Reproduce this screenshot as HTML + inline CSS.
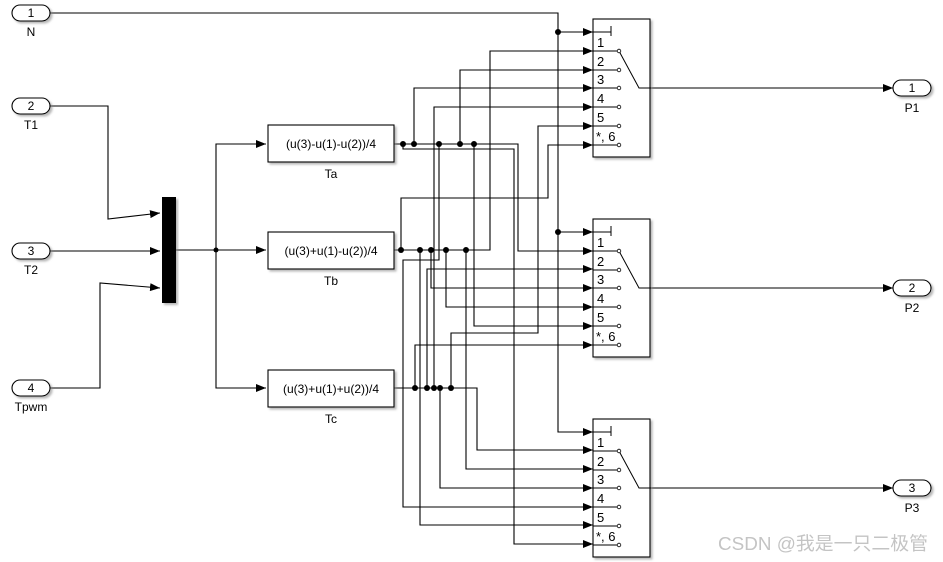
<!DOCTYPE html>
<html><head><meta charset="utf-8"><style>
html,body{margin:0;padding:0;background:#fff;width:943px;height:562px;overflow:hidden}
text{font-family:"Liberation Sans","Noto Sans CJK SC",sans-serif;fill:#000}
</style></head><body>
<svg width="943" height="562" viewBox="0 0 943 562" xmlns="http://www.w3.org/2000/svg">
<defs>
<marker id="a" markerWidth="10" markerHeight="8" refX="10" refY="4" orient="auto" markerUnits="userSpaceOnUse"><path d="M0,0 L10,4 L0,8 Z" fill="#000"/></marker>
<filter id="sh" x="-10%" y="-10%" width="130%" height="130%"><feDropShadow dx="2" dy="2" stdDeviation="1" flood-color="#888" flood-opacity="0.6"/></filter>
</defs>
<g fill="none" stroke="#000" stroke-width="1.1">
<path d="M50,13 H558 V432 H593" marker-end="url(#a)"/>
<path d="M558,32 H593" marker-end="url(#a)"/>
<path d="M558,232 H593" marker-end="url(#a)"/>
<path d="M50,106 H108 V219 L160,213" marker-end="url(#a)"/>
<path d="M50,251 H160" marker-end="url(#a)"/>
<path d="M50,388 H100 V283 L160,288" marker-end="url(#a)"/>
<path d="M176,250 H266" marker-end="url(#a)"/>
<path d="M216,250 V144 H266" marker-end="url(#a)"/>
<path d="M216,250 V388 H266" marker-end="url(#a)"/>
<path d="M394,144 H518 V251 H593" marker-end="url(#a)"/>
<path d="M403,144 V149 H514 V544 H593" marker-end="url(#a)"/>
<path d="M414,144 V88 H593" marker-end="url(#a)"/>
<path d="M460,144 V70 H593" marker-end="url(#a)"/>
<path d="M439,144 V260 H403 V507 H593" marker-end="url(#a)"/>
<path d="M474,144 V326 H593" marker-end="url(#a)"/>
<path d="M394,250 H490 V51 H593" marker-end="url(#a)"/>
<path d="M401,250 V198 H548 V145 H593" marker-end="url(#a)"/>
<path d="M420,250 V525 H593" marker-end="url(#a)"/>
<path d="M431,250 V288 H593" marker-end="url(#a)"/>
<path d="M446,250 V307 H593" marker-end="url(#a)"/>
<path d="M466,250 V469 H593" marker-end="url(#a)"/>
<path d="M394,388 H477 V450 H593" marker-end="url(#a)"/>
<path d="M415,388 V345 H593" marker-end="url(#a)"/>
<path d="M427,388 V269 H593" marker-end="url(#a)"/>
<path d="M434,388 V107 H593" marker-end="url(#a)"/>
<path d="M440,388 V488 H593" marker-end="url(#a)"/>
<path d="M451,388 V333 H538 V126 H593" marker-end="url(#a)"/>
<path d="M640,88 H893" marker-end="url(#a)"/>
<path d="M640,288 H893" marker-end="url(#a)"/>
<path d="M640,488 H893" marker-end="url(#a)"/>
</g>
<g fill="#000">
<circle cx="558" cy="32" r="3"/><circle cx="558" cy="232" r="3"/><circle cx="216" cy="250" r="2.5"/>
<circle cx="403" cy="144" r="3"/><circle cx="414" cy="144" r="3"/><circle cx="439" cy="144" r="3"/><circle cx="460" cy="144" r="3"/><circle cx="474" cy="144" r="3"/>
<circle cx="401" cy="250" r="3"/><circle cx="420" cy="250" r="3"/><circle cx="431" cy="250" r="3"/><circle cx="446" cy="250" r="3"/><circle cx="466" cy="250" r="3"/>
<circle cx="415" cy="388" r="3"/><circle cx="427" cy="388" r="3"/><circle cx="434" cy="388" r="3"/><circle cx="440" cy="388" r="3"/><circle cx="451" cy="388" r="3"/>
</g>
<rect x="162" y="197" width="14" height="106" fill="#000" filter="url(#sh)"/>
<g stroke="#000" stroke-width="1.1" fill="#fff" filter="url(#sh)">
<rect x="12" y="5" width="38" height="16" rx="8"/>
<rect x="12" y="98" width="38" height="16" rx="8"/>
<rect x="12" y="243" width="38" height="16" rx="8"/>
<rect x="12" y="380" width="38" height="16" rx="8"/>
<rect x="893" y="80" width="38" height="16" rx="8"/>
<rect x="893" y="280" width="38" height="16" rx="8"/>
<rect x="893" y="480" width="38" height="16" rx="8"/>
<rect x="268" y="125" width="126" height="37"/>
<rect x="268" y="232" width="126" height="37"/>
<rect x="268" y="370" width="126" height="37"/>
</g>
<g font-size="12" text-anchor="middle">
<text x="31" y="17">1</text><text x="31" y="110">2</text><text x="31" y="255">3</text><text x="31" y="392">4</text>
<text x="31" y="36">N</text><text x="31" y="129">T1</text><text x="31" y="274">T2</text><text x="31" y="411">Tpwm</text>
<text x="912" y="92">1</text><text x="912" y="292">2</text><text x="912" y="492">3</text>
<text x="912" y="112">P1</text><text x="912" y="312">P2</text><text x="912" y="512">P3</text>
<text x="331" y="148">(u(3)-u(1)-u(2))/4</text><text x="331" y="255">(u(3)+u(1)-u(2))/4</text><text x="331" y="393">(u(3)+u(1)+u(2))/4</text>
<text x="331" y="178">Ta</text><text x="331" y="285">Tb</text><text x="331" y="423">Tc</text>
</g>
<g id="sw">
<rect x="593" y="19" width="57" height="138" fill="#fff" stroke="#000" stroke-width="1.1" filter="url(#sh)"/>
<g stroke="#000" stroke-width="1" fill="none">
<path d="M593,32 H611 M611,26 V36"/>
<path d="M593,51 H617 M593,70 H617 M593,88 H617 M593,107 H617 M593,126 H617 M593,145 H617"/>
<path d="M619,51 L639,88 H651"/>
</g>
<g fill="#fff" stroke="#000" stroke-width="0.8">
<circle cx="619" cy="51" r="1.8"/><circle cx="619" cy="70" r="1.8"/><circle cx="619" cy="88" r="1.8"/><circle cx="619" cy="107" r="1.8"/><circle cx="619" cy="126" r="1.8"/><circle cx="619" cy="145" r="1.8"/>
</g>
<g font-size="13"><text x="597" y="47">1</text><text x="597" y="66">2</text><text x="597" y="84">3</text><text x="597" y="103">4</text><text x="597" y="122">5</text><text x="596" y="141">*, 6</text></g>
</g>
<use href="#sw" transform="translate(0,200)"/>
<use href="#sw" transform="translate(0,400)"/>
<text x="718" y="550" font-size="18.5" textLength="210" lengthAdjust="spacingAndGlyphs" style="fill:#c4c4c4">CSDN @我是一只二极管</text>
</svg>
</body></html>
